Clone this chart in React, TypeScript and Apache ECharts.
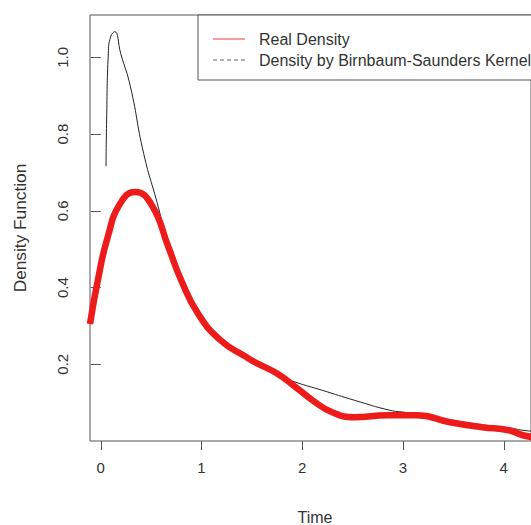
import React, { useEffect, useRef } from "react";
import * as echarts from "echarts";

// Real Density (red, thick) — [time, density]
const realTime = [-0.107, -0.029, 0.068, 0.195, 0.341, 0.506, 0.672, 0.798, 0.963, 1.187, 1.45, 1.548, 1.742, 1.937, 2.102, 2.297, 2.52, 2.842, 3.134, 3.465, 3.786, 4.05, 4.19, 4.3];
const realDensity = [0.305, 0.419, 0.531, 0.62, 0.649, 0.615, 0.505, 0.419, 0.333, 0.263, 0.218, 0.203, 0.177, 0.14, 0.106, 0.075, 0.062, 0.067, 0.067, 0.049, 0.036, 0.028, 0.015, 0.01];

// Density by Birnbaum-Saunders Kernel (black, thin)
const bsTime = [0.052, 0.058, 0.075, 0.097, 0.139, 0.198, 0.295, 0.425, 0.571, 0.672, 0.798, 0.963, 1.187, 1.45, 1.742, 1.937, 2.2, 2.52, 2.87, 3.01, 3.465, 3.786, 4.05, 4.19, 4.3];
const bsDensity = [0.716, 0.837, 1.011, 1.053, 1.067, 1.01, 0.923, 0.75, 0.61, 0.505, 0.42, 0.333, 0.263, 0.215, 0.172, 0.153, 0.132, 0.106, 0.08, 0.075, 0.055, 0.042, 0.034, 0.028, 0.025];

const xTicks = [0, 1, 2, 3, 4];
const yTicks = [0.2, 0.4, 0.6, 0.8, 1.0];

const legendLabels = ["Real Density", "Density by Birnbaum-Saunders Kernel"];
const xTitle = "Time";
const yTitle = "Density Function";

const FONT = "Liberation Sans, Arial, Helvetica, sans-serif";

export default function App() {
  const ref = useRef<HTMLDivElement>(null);
  useEffect(() => {
    if (!ref.current) return;
    const chart = echarts.init(ref.current, undefined, { renderer: "svg" });
    const realData = realTime.map((t, i) => [t, realDensity[i]]);
    const bsData = bsTime.map((t, i) => [t, bsDensity[i]]);
    chart.setOption({
      animation: false,
      backgroundColor: "#ffffff",
      grid: {
        left: 90,
        top: 15,
        width: 450,
        height: 426,
        show: true,
        borderColor: "#555",
        borderWidth: 1,
        backgroundColor: "transparent",
      },
      xAxis: {
        type: "value",
        min: -0.107,
        max: 4.27,
        axisLine: { show: false },
        splitLine: { show: false },
        axisTick: { show: true, length: 9, lineStyle: { color: "#555" }, customValues: xTicks },
        axisLabel: {
          customValues: xTicks,
          margin: 19,
          fontSize: 15,
          color: "#333",
          fontFamily: FONT,
          formatter: (v: number) => String(v),
        },
      },
      yAxis: {
        type: "value",
        min: 0,
        max: 1.1105,
        axisLine: { show: false },
        splitLine: { show: false },
        axisTick: { show: true, length: 10, lineStyle: { color: "#555" }, customValues: yTicks },
        axisLabel: {
          customValues: yTicks,
          rotate: 90,
          margin: 20,
          fontSize: 15,
          color: "#333",
          fontFamily: FONT,
          formatter: (v: number) => v.toFixed(1),
        },
      },
      series: [
        {
          name: legendLabels[1],
          type: "line",
          data: bsData,
          showSymbol: false,
          smooth: 0.5,
          lineStyle: { color: "#222", width: 1 },
          z: 2,
        },
        {
          name: legendLabels[0],
          type: "line",
          data: realData,
          showSymbol: false,
          smooth: 0.5,
          lineStyle: { color: "#ee1b1b", width: 6.5 },
          z: 3,
        },
      ],
      graphic: [
        {
          type: "rect",
          shape: { x: 198, y: 15, width: 400, height: 65 },
          style: { fill: "#ffffff", stroke: "#555", lineWidth: 1 },
          z: 10,
        },
        {
          type: "line",
          shape: { x1: 213, y1: 39, x2: 245, y2: 39 },
          style: { stroke: "#f03a3a", lineWidth: 1 },
          z: 11,
        },
        {
          type: "line",
          shape: { x1: 213, y1: 60, x2: 245, y2: 60 },
          style: { stroke: "#666", lineWidth: 1, lineDash: [4, 3] },
          z: 11,
        },
        {
          type: "text",
          x: 259,
          y: 39,
          style: { text: legendLabels[0], fill: "#333", font: `16px ${FONT}`, verticalAlign: "middle" },
          z: 11,
        },
        {
          type: "text",
          x: 259,
          y: 60,
          style: { text: legendLabels[1], fill: "#333", font: `16px ${FONT}`, verticalAlign: "middle" },
          z: 11,
        },
        {
          type: "text",
          x: 315,
          y: 517,
          style: { text: xTitle, fill: "#333", font: `16px ${FONT}`, align: "center", verticalAlign: "middle" },
        },
        {
          type: "text",
          x: 21,
          y: 228,
          rotation: Math.PI / 2,
          scaleX: 1.08,
          style: { text: yTitle, fill: "#333", font: `16px ${FONT}`, align: "center", verticalAlign: "middle" },
        },
      ],
    });
    return () => chart.dispose();
  }, []);
  return (
    <div
      ref={ref}
      style={{ position: "fixed", left: 0, top: 0, width: 531, height: 525, background: "#fff" }}
    />
  );
}
